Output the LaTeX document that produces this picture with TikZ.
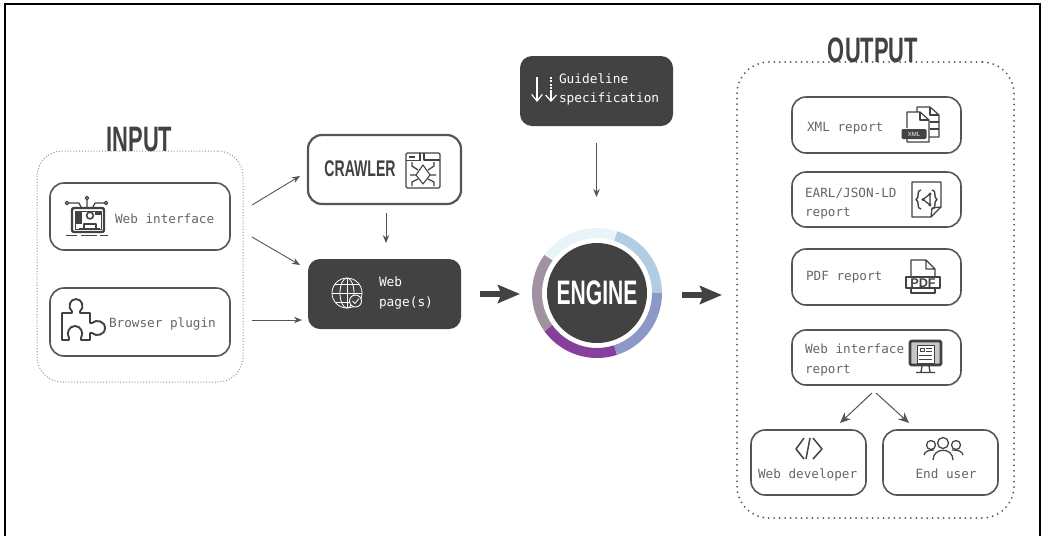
\documentclass[tikz,border=0pt]{standalone}
\usepackage{fontspec}
\usetikzlibrary{arrows.meta,calc}
\setmainfont{Liberation Sans}
\newfontfamily\monof{DejaVu Sans Mono}
\newfontfamily\titlef[FakeStretch=0.62]{Liberation Sans}
\definecolor{dark}{HTML}{424242}
\definecolor{ink}{HTML}{555555}
\definecolor{txt}{HTML}{666666}
\tikzset{
 pxlw/.style={line width=#1*0.75pt},
 box/.style={draw=ink,pxlw=1.6,rounded corners=10.5pt,fill=white,inner sep=0pt,outer sep=0pt},
 darkbox/.style={fill=dark,rounded corners=9pt,inner sep=0pt,outer sep=0pt},
 mono/.style={font=\monof\fontsize{9.5pt}{12pt}\selectfont,text=txt,anchor=base west,inner sep=0pt,outer sep=0pt},
 monow/.style={font=\monof\fontsize{9.6pt}{12pt}\selectfont,text=white,anchor=base west,inner sep=0pt,outer sep=0pt},
 title/.style={font=\titlef\bfseries\fontsize{26.5pt}{28pt}\selectfont,text=dark,inner sep=0pt,outer sep=0pt},
 conn/.style={draw=ink,pxlw=0.9,-{Stealth[length=6pt,width=4.8pt]}},
 bigconn/.style={draw=dark,pxlw=6,-{Stealth[length=16.5pt,width=13.5pt,inset=2.5pt]}},
 icon/.style={draw=dark,pxlw=1.25,line join=round},
 iconw/.style={draw=white,pxlw=0.8,line join=round},
}
\begin{document}
\begin{tikzpicture}[x=0.75pt,y=-0.75pt]
\useasboundingbox (0,0) rectangle (1041,536);
% frame
\draw[black,pxlw=2] (4.5,536) -- (4.5,3.5) -- (1039.5,3.5) -- (1039.5,536);
% dotted groups
\node[draw=gray!85,pxlw=1,dash pattern=on 0.75pt off 1.4pt,rounded corners=19pt,minimum width=206*0.75pt,minimum height=231*0.75pt,inner sep=0pt,outer sep=0pt] (inputbox) at (140,266.5) {};
\node[draw=ink,pxlw=2,line cap=round,dash pattern=on 0pt off 4.1pt,rounded corners=24pt,minimum width=277*0.75pt,minimum height=456*0.75pt,inner sep=0pt,outer sep=0pt] (outputbox) at (875.5,290) {};
\node[title] (inputt) at (139.5,139.5) {INPUT};
\node[title] (outputt) at (873,50.5) {OUTPUT};
% left boxes
\node[box,minimum width=180*0.75pt,minimum height=67*0.75pt] (webif) at (140,216.5) {};
\node[box,minimum width=180*0.75pt,minimum height=68*0.75pt] (browser) at (140,322) {};
\node[mono] (webift) at (115,223) {Web interface};
\node[mono] (browsert) at (109,327) {Browser plugin};
% crawler
\node[box,pxlw=2.2,minimum width=153*0.75pt,minimum height=69*0.75pt] (crawler) at (384.5,169.5) {};
\node[title,font=\titlef\bfseries\fontsize{17pt}{20pt}\selectfont] (crawlert) at (360,169) {CRAWLER};
% web pages
\node[darkbox,minimum width=153*0.75pt,minimum height=70*0.75pt] (web) at (384.5,294) {};
\node[monow] (webt1) at (379,286) {Web};
\node[monow] (webt2) at (379,306) {page(s)};
% guideline
\node[darkbox,minimum width=153*0.75pt,minimum height=70*0.75pt] (guide) at (596.5,91) {};
\node[monow] (guidet1) at (559,83) {Guideline};
\node[monow] (guidet2) at (559,102) {specification};
% engine ring
\coordinate (ec) at (597,293);
\foreach \a/\b/\c in {0/72/B1CDE3,72/144/E9F4F8,144/216/A291A1,216/288/86409B,288/360/8C98C8}{
  \definecolor{seg}{HTML}{\c}
  \draw[seg,pxlw=10] ($(ec)+(-\a:60)$) arc[start angle=-\a,end angle=-\b,radius=60];
}
\node[circle,fill=dark,minimum size=100*0.75pt,inner sep=0pt,outer sep=0pt,text=white,font=\titlef\bfseries\fontsize{25.5pt}{28pt}\selectfont] (engine) at (ec) {ENGINE};
% output boxes
\node[box,minimum width=169*0.75pt,minimum height=56*0.75pt] (xml) at (876.5,125) {};
\node[box,minimum width=169*0.75pt,minimum height=55*0.75pt] (earl) at (876.5,199.5) {};
\node[box,minimum width=169*0.75pt,minimum height=56*0.75pt] (pdf) at (876.5,277) {};
\node[box,minimum width=169*0.75pt,minimum height=55*0.75pt] (wir) at (876.5,357.5) {};
\node[box,minimum width=115*0.75pt,minimum height=65*0.75pt] (dev) at (808.5,462.5) {};
\node[box,minimum width=115*0.75pt,minimum height=65*0.75pt] (user) at (940.5,462.5) {};
\node[mono] (xmlt) at (807,131) {XML report};
\node[mono] (earlt1) at (805,197) {EARL/JSON-LD};
\node[mono] (earlt2) at (805,216) {report};
\node[mono] (pdft) at (806,280) {PDF report};
\node[mono] (wirt1) at (805,353) {Web interface};
\node[mono] (wirt2) at (805,373) {report};
\node[mono] (devt) at (758,478) {Web developer};
\node[mono,anchor=base] (usert) at (946,478) {End user};
% connectors
\draw[conn] ([shift={(22,-11.5)}]webif.east) -- ([shift={(-8,6.5)}]crawler.west);
\draw[conn] ([shift={(22,20.5)}]webif.east) -- ([shift={(-8,-29)}]web.west);
\draw[conn] ([shift={(22,-2)}]browser.east) -- ([shift={(-6,26)}]web.west);
\draw[conn] ([shift={(1.5,9)}]crawler.south) -- ([shift={(1.5,-16)}]web.north);
\draw[conn] ([shift={(0,17)}]guide.south) -- ([shift={(-0.5,-46)}]engine.north);
\draw[bigconn] ([shift={(19,0)}]web.east) -- ([shift={(-27,1)}]engine.west);
\draw[bigconn] ([shift={(35,2)}]engine.east) -- ([shift={(-15,5)}]outputbox.west);
\draw[conn,pxlw=1,-{Stealth[length=8pt,width=7pt]}] ([shift={(-4.5,8)}]wir.south) -- ([shift={(31.5,-7)}]dev.north);
\draw[conn,pxlw=1,-{Stealth[length=8pt,width=7pt]}] ([shift={(-0.5,8)}]wir.south) -- ([shift={(-31.5,-7)}]user.north);
% web interface icon
\draw[icon,pxlw=2.4,rounded corners=1.5pt] (72,208) rectangle (104,232);
\draw[icon,pxlw=0.8] (75,211) rectangle (101,229);
\draw[icon,pxlw=1.8] (66,235.5) -- (77,235.5) (81,235.5) -- (97,235.5) (100,235.5) -- (108,235.5);
\draw[icon] (67,203) circle (1.7) (87,198) circle (1.7) (106,203) circle (1.7);
\draw[icon] (68.7,203) -- (79,203) -- (81,207) (87,199.7) -- (87,207) (104.3,203) -- (95,203) -- (93,207);
\fill[dark] (75,212) rectangle (82,224);
\fill[dark] (95,211) rectangle (102,214.5);
\draw[icon,pxlw=1.6] (90,215.5) circle (3.4);
\draw[icon,pxlw=1.6] (84,228) -- (84,224) -- (96,224) -- (96,228);
\draw[icon,pxlw=1.6] (79,229) -- (100,229);
% puzzle icon
\draw[icon,pxlw=1.9] (62,313) -- (72,313) -- (72,311.5) .. controls (67,307) and (70,299) .. (76,299) .. controls (82,299) and (85,307) .. (80,311.5) -- (80,313) -- (90,313) -- (90,323) -- (92,323) .. controls (96,319) and (105,321) .. (105,328) .. controls (105,335) and (96,337) .. (92,333) -- (90,333) -- (90,340) -- (81,340) -- (81,338) .. controls (84,333) and (81,326) .. (75,326) .. controls (69,326) and (66,333) .. (69,338) -- (69,340) -- (62,340) -- cycle;
% spider icon
\draw[icon,rounded corners=1pt] (406,153) rectangle (440,188);
\draw[icon] (406,160.5) -- (420,160.5) (420,153) -- (420,160.5) (424,153) -- (424,160) -- (440,160);
\draw[icon,pxlw=1.3] (409,157) -- (415,157);
\draw[icon,pxlw=1.1] (423,165) -- (430,175) -- (423,184) -- (416,175) -- cycle;
\draw[icon] (418,170) -- (412,166) -- (412,162) (428,170) -- (434,166) -- (434,162)
 (416,175) -- (410,175) (430,175) -- (436,175)
 (418,179) -- (412,182) -- (412,186) (428,179) -- (434,182) -- (434,186);
% globe icon
\begin{scope}[iconw]
\draw (347,293) circle (15);
\draw (347,293) ellipse (7 and 15);
\draw (347,278) -- (347,308) (332,293) -- (362,293) (335,284) -- (359,284) (335,302) -- (359,302);
\end{scope}
\filldraw[fill=dark,draw=white,pxlw=0.9] (355.5,301) circle (6);
\draw[iconw] (352.5,301) -- (355,303.5) -- (359,298.5);
% guideline arrows icon
\draw[white,pxlw=1.2,-{Straight Barb[length=5pt,width=8pt]}] (537,77) -- (537,102);
\draw[white,pxlw=1.2,dash pattern=on 1.5pt off 1pt] (551,77) -- (551,96);
\draw[white,pxlw=1.2,-{Straight Barb[length=4.5pt,width=8pt]}] (551,92) -- (551,102);
% xml icon
\draw[icon] (917,112) -- (917,107) -- (930,107) -- (939,115) -- (939,137) -- (929,137);
\draw[icon] (930,107) -- (930,115) -- (939,115) (930,122) -- (939,122) (930,129) -- (939,129);
\draw[icon,fill=white] (907,128) -- (907,112) -- (920,112) -- (929,120) -- (929,142) -- (907,142) -- (907,139);
\draw[icon] (920,112) -- (920,120) -- (929,120);
\node[fill=dark,rounded corners=1pt,minimum width=25*0.75pt,minimum height=10*0.75pt,inner sep=0pt,text=white,font=\fontsize{4.5pt}{5pt}\selectfont] (xmlicon) at (914,134) {XML};
% earl icon
\draw[icon] (912,182) -- (941,182) -- (941,207) -- (931,217) -- (912,217) -- cycle;
\draw[icon] (941,207) -- (932,208) -- (931,217);
\draw[icon,pxlw=1.4] (921,190) .. controls (916,190) and (920,198) .. (916,199.5) .. controls (920,201) and (916,209) .. (921,209);
\draw[icon,pxlw=1.4] (932,190) .. controls (937,190) and (933,198) .. (937,199.5) .. controls (933,201) and (937,209) .. (932,209);
\draw[icon] (923,199.5) -- (930,194) -- (930,205) -- cycle;
\fill[dark] (923,199.5) circle (1.7) (930,194) circle (1.7) (930,205) circle (1.7);
% pdf icon
\draw[icon] (911,277) -- (911,260) -- (926,260) -- (935,269) -- (935,277) (926,260) -- (926,269) -- (935,269);
\draw[icon] (911,288) -- (911,293) -- (935,293) -- (935,288);
\draw[icon] (906,277) rectangle (940,288);
\node[inner sep=0pt,text=dark,font=\bfseries\fontsize{9.5pt}{10pt}\selectfont] (pdficon) at (923,283) {PDF};
% monitor icon
\draw[icon,pxlw=2.8,fill=gray!45,rounded corners=1pt] (910,341) rectangle (941,365);
\draw[icon,pxlw=0.7,fill=white] (917,345) rectangle (934,363);
\draw[icon,pxlw=0.8] (920,348) rectangle (924,351) (926,348) -- (932,348) (926,351) -- (932,351) (919,355) -- (932,355) (919,359) -- (932,359);
\draw[icon,pxlw=1.3] (922,366) -- (921,372) (929,366) -- (930,372) (916,372.5) -- (935,372.5);
% code icon
\draw[icon,pxlw=1.5] (804,438) -- (796,449) -- (804,459) (810,438) -- (806,459) (813,438) -- (822,449) -- (813,459);
% people icon
\draw[icon] (943,443) circle (5.5) (931,445) circle (4.5) (956,445) circle (4.5);
\draw[icon] (933,460) .. controls (933,447) and (953,447) .. (953,460);
\draw[icon] (924,455) .. controls (925,451) and (929,450) .. (934,450);
\draw[icon] (963,455) .. controls (962,451) and (958,450) .. (952,450);
\end{tikzpicture}
\end{document}
